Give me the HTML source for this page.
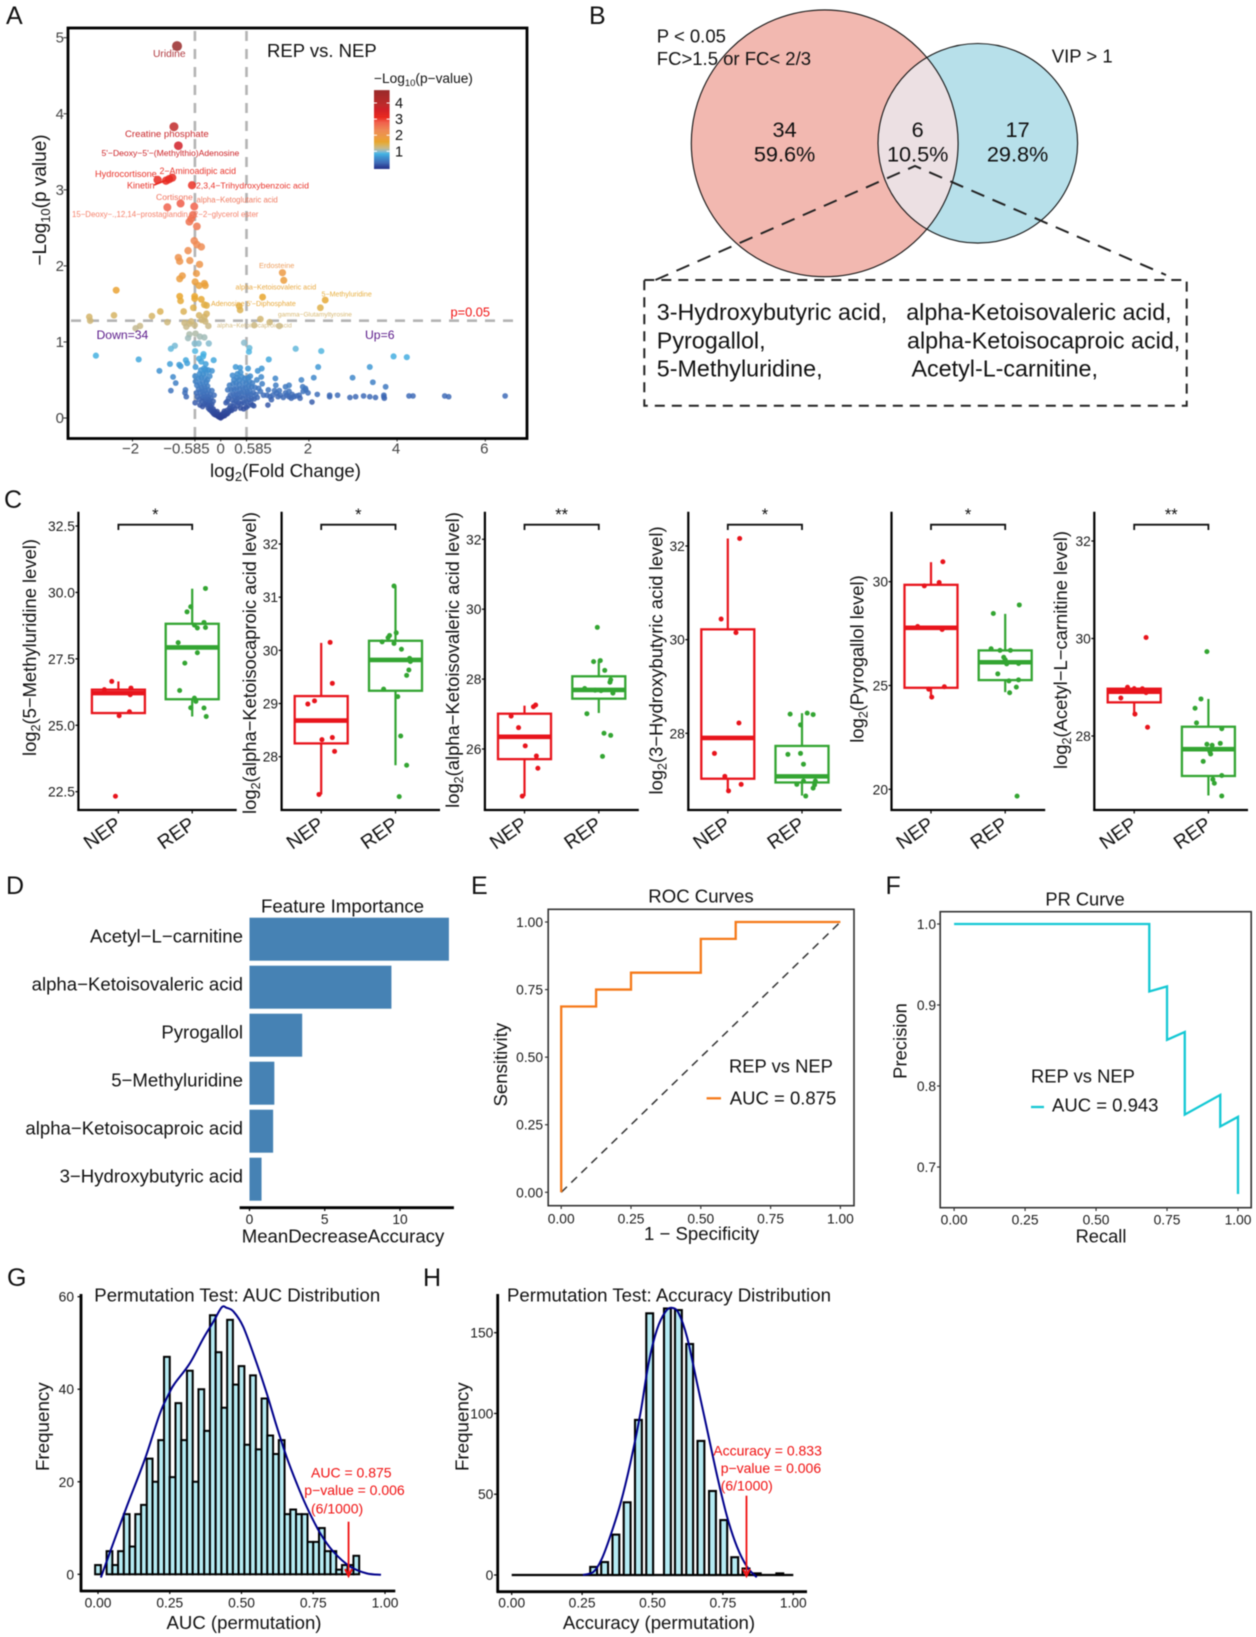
<!DOCTYPE html>
<html lang="en">
<head>
<meta charset="utf-8">
<title>Metabolomics multi-panel figure</title>
<style>
html,body{margin:0;padding:0;background:#fff;width:1256px;height:1637px;overflow:hidden}
svg{display:block;filter:blur(0.4px)}
text{font-family:"Liberation Sans",Arial,sans-serif;fill:#111}
.letter{font-size:25px}
.tick{font-size:13.8px;fill:#1a1a1a}
.title{font-size:18.4px}
.atick{font-size:15px;fill:#444}
.red{fill:#f01010;font-size:14px}
</style>
</head>
<body>
<svg id="figure" xmlns="http://www.w3.org/2000/svg" width="1256" height="1637" viewBox="0 0 1256 1637">
<rect width="1256" height="1637" fill="#fff"/>

<!-- Panel A -->
<g id="panelA">
  <text class="letter" x="6" y="24">A</text>
  <g id="aMarks"></g>
  <rect x="68" y="28" width="459" height="410.5" fill="none" stroke="#000" stroke-width="2.8"/>
  <text x="267" y="57" font-size="18.5">REP vs. NEP</text>
  <text x="285.5" y="477" font-size="18.6" text-anchor="middle">log<tspan dy="4" font-size="13">2</tspan><tspan dy="-4">(Fold Change)</tspan></text>
  <text transform="translate(46,200) rotate(-90)" font-size="19" text-anchor="middle">−Log<tspan dy="4" font-size="13">10</tspan><tspan dy="-4">(p value)</tspan></text>
  <text x="374" y="83" font-size="13.7">−Log<tspan dy="3" font-size="9.5">10</tspan><tspan dy="-3">(p−value)</tspan></text>
  <text x="153" y="57" font-size="10.3" fill="#b03a40" style="fill:#b03a40">Uridine</text>
  <text x="125" y="137" font-size="9.6" style="fill:#c9282c">Creatine phosphate</text>
  <text x="101.5" y="156" font-size="8.6" style="fill:#cc1f24">5'−Deoxy−5'−(Methylthio)Adenosine</text>
  <text x="95" y="177" font-size="9.2" style="fill:#e8332a">Hydrocortisone</text>
  <text x="159.5" y="174" font-size="8.8" style="fill:#e8332a">2−Aminoadipic acid</text>
  <text x="127" y="188.5" font-size="9" style="fill:#e8332a">Kinetin</text>
  <text x="196" y="188.5" font-size="8.7" style="fill:#e8332a">2,3,4−Trihydroxybenzoic acid</text>
  <text x="156" y="200" font-size="8.6" style="fill:#f0705a">Cortisone</text>
  <text x="196.5" y="202.5" font-size="7.8" style="fill:#f07a60">alpha−Ketoglutaric acid</text>
  <text x="72" y="217" font-size="7.85" style="fill:#f5806a">15−Deoxy−.,12,14−prostaglandin J2−2−glycerol ester</text>
  <line x1="154" y1="185" x2="167" y2="180" stroke="#e8281f" stroke-width="1.6"/>
  <text x="259" y="268" font-size="7.4" style="fill:#eea060">Erdosteine</text>
  <text x="235.5" y="289.5" font-size="7.1" style="fill:#e8a840">alpha−Ketoisovaleric acid</text>
  <text x="321.5" y="296.5" font-size="7.1" style="fill:#e8b040">5−Methyluridine</text>
  <text x="211" y="306" font-size="7.1" style="fill:#e8a838">Adenosine 5'−Diphosphate</text>
  <text x="278" y="316.5" font-size="6.5" style="fill:#d8b870">gamma−Glutamyltyrosine</text>
  <text x="217" y="327.5" font-size="6.4" style="fill:#d4bb80">alpha−Ketoisocaproic acid</text>
  <text x="96.5" y="339" font-size="12.2" style="fill:#5a1a8a">Down=34</text>
  <text x="365" y="339" font-size="12.2" style="fill:#5a1a8a">Up=6</text>
  <text x="450.5" y="316.5" font-size="12.8" style="fill:#f01010">p=0.05</text>
</g>

<!-- Panel B -->
<g id="panelB">
  <defs><clipPath id="vennClip"><circle cx="824.7" cy="143.3" r="133.4"/></clipPath></defs>
  <text class="letter" x="589" y="24">B</text>
  <circle cx="824.7" cy="143.3" r="133.4" fill="#f2b8b0"/>
  <circle cx="977.8" cy="143.3" r="99.8" fill="#b7e0ea"/>
  <circle cx="977.8" cy="143.3" r="99.8" fill="#ece0e3" clip-path="url(#vennClip)"/>
  <circle cx="824.7" cy="143.3" r="133.4" fill="none" stroke="#111" stroke-width="1.1"/>
  <circle cx="977.8" cy="143.3" r="99.8" fill="none" stroke="#111" stroke-width="1.1"/>
  <text x="656.8" y="42.5" font-size="18.5">P &lt; 0.05</text>
  <text x="656.8" y="65" font-size="18.5">FC&gt;1.5 or FC&lt; 2/3</text>
  <text x="1051.8" y="62.5" font-size="18.5">VIP &gt; 1</text>
  <text x="784.6" y="137" font-size="21.7" text-anchor="middle">34</text>
  <text x="784.6" y="161.5" font-size="21.7" text-anchor="middle">59.6%</text>
  <text x="917.7" y="137" font-size="21.7" text-anchor="middle">6</text>
  <text x="917.7" y="161.5" font-size="21.7" text-anchor="middle">10.5%</text>
  <text x="1017.6" y="137" font-size="21.7" text-anchor="middle">17</text>
  <text x="1017.6" y="161.5" font-size="21.7" text-anchor="middle">29.8%</text>
  <polyline points="655.4,280 915,166 1166,275" fill="none" stroke="#222" stroke-width="2" stroke-dasharray="14,9"/>
  <rect x="644.3" y="280" width="542.4" height="125.7" fill="none" stroke="#222" stroke-width="2" stroke-dasharray="10,7"/>
  <text x="656.8" y="320" font-size="23.3">3-Hydroxybutyric acid,</text>
  <text x="656.8" y="348.3" font-size="23.3">Pyrogallol,</text>
  <text x="656.8" y="376.7" font-size="23.3">5-Methyluridine,</text>
  <text x="906.2" y="320" font-size="23.3">alpha-Ketoisovaleric acid,</text>
  <text x="907" y="348.3" font-size="23.3">alpha-Ketoisocaproic acid,</text>
  <text x="911.5" y="376.7" font-size="23.3">Acetyl-L-carnitine,</text>
</g>

<!-- Panel C -->
<g id="panelC">
  <text class="letter" x="4" y="508">C</text>
  <g id="cMarks"></g>
  <text class="title" transform="translate(36,647.5) rotate(-90)" text-anchor="middle">log<tspan dy="4" font-size="12.5">2</tspan><tspan dy="-4">(5−Methyluridine level)</tspan></text>
  <text class="title" transform="translate(256,663) rotate(-90)" text-anchor="middle">log<tspan dy="4" font-size="12.5">2</tspan><tspan dy="-4">(alpha−Ketoisocaproic acid level)</tspan></text>
  <text class="title" transform="translate(459,660) rotate(-90)" text-anchor="middle">log<tspan dy="4" font-size="12.5">2</tspan><tspan dy="-4">(alpha−Ketoisovaleric acid level)</tspan></text>
  <text class="title" transform="translate(662.7,660.5) rotate(-90)" text-anchor="middle">log<tspan dy="4" font-size="12.5">2</tspan><tspan dy="-4">(3−Hydroxybutyric acid level)</tspan></text>
  <text class="title" transform="translate(863.5,659) rotate(-90)" text-anchor="middle">log<tspan dy="4" font-size="12.5">2</tspan><tspan dy="-4">(Pyrogallol level)</tspan></text>
  <text class="title" transform="translate(1067,650) rotate(-90)" text-anchor="middle">log<tspan dy="4" font-size="12.5">2</tspan><tspan dy="-4">(Acetyl−L−carnitine level)</tspan></text>
</g>

<!-- Panel D -->
<g id="panelD">
  <text class="letter" x="6" y="894">D</text>
  <text x="261" y="912.7" font-size="18.7">Feature Importance</text>
  <g id="dMarks"></g>
  <text x="343" y="1242.3" font-size="18.6" text-anchor="middle">MeanDecreaseAccuracy</text>
</g>

<!-- Panel E -->
<g id="panelE">
  <text class="letter" x="471" y="894">E</text>
  <text x="701" y="902.7" font-size="18.6" text-anchor="middle">ROC Curves</text>
  <rect x="548.2" y="909.3" width="305.8" height="296.4" fill="none" stroke="#333" stroke-width="1.6"/>
  <g id="eMarks"></g>
  <text x="701.6" y="1240" font-size="18.6" text-anchor="middle">1 − Specificity</text>
  <text transform="translate(507,1064.7) rotate(-90)" font-size="18.6" text-anchor="middle">Sensitivity</text>
  <text x="729" y="1072.7" font-size="18.4">REP vs NEP</text>
  <line x1="706.6" y1="1098.3" x2="721" y2="1098.3" stroke="#f57a1a" stroke-width="2.3"/>
  <text x="729.8" y="1104.3" font-size="18.5">AUC = 0.875</text>
</g>

<!-- Panel F -->
<g id="panelF">
  <text class="letter" x="885.5" y="894">F</text>
  <text x="1085" y="905.3" font-size="18.3" text-anchor="middle">PR Curve</text>
  <rect x="940.2" y="911.7" width="311" height="296" fill="none" stroke="#333" stroke-width="1.6"/>
  <g id="fMarks"></g>
  <text x="1101" y="1242.3" font-size="18.3" text-anchor="middle">Recall</text>
  <text transform="translate(906.6,1041) rotate(-90)" font-size="18.4" text-anchor="middle">Precision</text>
  <text x="1031" y="1082.7" font-size="18.4">REP vs NEP</text>
  <line x1="1031" y1="1107" x2="1044" y2="1107" stroke="#14c8d4" stroke-width="2.3"/>
  <text x="1052" y="1111.7" font-size="18.5">AUC = 0.943</text>
</g>

<!-- Panel G -->
<g id="panelG">
  <text class="letter" x="7" y="1286">G</text>
  <g id="gMarks"></g>
  <text x="94.3" y="1301.7" font-size="18.6">Permutation Test: AUC Distribution</text>
  <text x="244" y="1629" font-size="18.6" text-anchor="middle">AUC (permutation)</text>
  <text transform="translate(49,1426.7) rotate(-90)" font-size="18.8" text-anchor="middle">Frequency</text>
  <text class="red" x="311" y="1477.3">AUC = 0.875</text>
  <text class="red" x="304.3" y="1495">p−value = 0.006</text>
  <text class="red" x="311" y="1513.3">(6/1000)</text>
</g>

<!-- Panel H -->
<g id="panelH">
  <text class="letter" x="423" y="1286">H</text>
  <g id="hMarks"></g>
  <text x="507" y="1301.7" font-size="18.65">Permutation Test: Accuracy Distribution</text>
  <text x="659" y="1629" font-size="18.6" text-anchor="middle">Accuracy (permutation)</text>
  <text transform="translate(468.3,1426.7) rotate(-90)" font-size="18.8" text-anchor="middle">Frequency</text>
  <text class="red" x="713.3" y="1455.3">Accuracy = 0.833</text>
  <text class="red" x="720.7" y="1473">p−value = 0.006</text>
  <text class="red" x="720.7" y="1490.7">(6/1000)</text>
</g>
</svg>

<script>
/* ---------- Panel A data ---------- */
const volcanoXTicks = [-2, -0.585, 0, 0.585, 2, 4, 6];
const volcanoXLabels = ['−2', '−0.585', '0', '0.585', '2', '4', '6'];
const volcanoYTicks = [0, 1, 2, 3, 4, 5];
const volcanoLegendTicks = [1, 2, 3, 4];
const volcanoFoldThresholds = [-0.585, 0.585];
const volcanoPThreshold = [1.28];
const volcanoPoints = [
[-.99,4.89],[-1.06,3.83],[-.96,3.58],[-1.43,3.13],[-1.24,3.12],[-1.10,3.16],[-1.17,3.14],[-.65,3.06],[-.91,2.82],[-.60,2.78],[-1.21,2.77],[-.63,2.67],[-.67,2.62],[-.71,2.58],[-.54,2.52],[-.60,2.33],[-.54,2.28],[-.44,2.25],[-.74,2.20],[-.96,2.11],[-.93,2.06],[-.70,2.07],[-.48,2.02],[-.55,1.90],[-.87,1.87],[-.93,1.83],[-.58,1.79],[-.37,1.77],[-.35,1.74],[-.49,1.74],[-2.37,1.68],[-.93,1.60],[-.59,1.60],[-.59,1.57],[-.91,1.54],[-.44,1.56],[-.37,1.49],[-.32,1.48],[-.62,1.45],[-.84,1.40],[-1.37,1.40],[-1.56,1.34],[-2.42,1.35],[-2.98,1.33],[-2.96,1.28],[-.32,1.37],[-.49,1.35],[-.37,1.33],[-.43,1.29],[-.35,1.27],[-.28,1.21],[-1.21,1.26],[-.82,1.25],[-.71,1.24],[-.78,1.20],[-.59,1.22],[-1.83,1.21],[-1.93,1.18],[-.67,1.27],
[1.40,1.91],[1.43,1.81],[.95,1.59],[2.37,1.55],[2.26,1.45],[.44,1.42],[.42,1.47],[.90,1.30],[1.11,1.26],[1.33,1.21],[.76,1.22],
[-.71,1.10],[-.74,1.05],[-.57,1.11],[-.47,1.07],[-.37,1.06],[-.27,.98],[-.59,.98],[-.5,.98],[-1.04,.95],[-1.13,.91],[.53,.99],[.65,.92],[.64,.87],[1.70,.91],[2.28,.88],[-.58,.88],[-.39,.84],[-.40,.81],[-.49,.78],[3.92,.81],[4.22,.80],[-2.83,.82],[-1.86,.77],[-.16,.76],[1.09,.77],[-.79,.76],[-1.15,.71],[-.76,.72],[-.94,.70],[-.91,.68],[-1.39,.62],[-.57,.67],[-.34,.71],[-.44,.74],[-.34,.64],[-.20,.62],[2.21,.67],[3.38,.67],[.34,.67],[.44,.66],[.62,.65],[.93,.65],[.84,.62],[2.99,.53],[2.11,.53],[1.83,.50],[3.45,.47],[1.24,.52],[.92,.54],[.67,.55],[3.74,.41],[1.92,.39],[1.86,.41],[1.47,.41],[1.55,.43],[1.25,.43],[-1.08,.54],[-1.02,.46],[-1.13,.36],[-.80,.37],[-.81,.33],[-.78,.28],
[2.19,.31],[2.47,.30],[2.47,.28],[2.65,.30],[2.93,.27],[3.06,.28],[3.24,.29],[3.38,.28],[3.51,.27],[3.70,.30],[3.70,.28],[3.71,.26],[4.27,.29],[4.36,.29],[5.08,.29],[5.17,.28],[6.45,.29],[2.07,.21],
[0,0],[-.03,.01],[.03,.015],[-.06,.02],[.06,.025],[-.09,.035],[.09,.03],[-.12,.04],[.12,.05],[-.02,.03],[.02,.04],[-.05,.05],[.05,.06],[-.1,.06],[.1,.07],[-.15,.05],[.15,.055],[-.08,.085],[.08,.09],[-.18,.07],[.18,.075],[-.14,.09],[.14,.1],[-.21,.09],[.22,.1],[-.17,.12],[.2,.13],
[-.25,.11],[-.22,.14],[-.28,.13],[-.24,.17],[-.3,.17],[-.27,.2],[-.33,.2],[-.2,.18],[-.36,.24],[-.3,.24],[-.25,.23],[-.4,.27],[-.34,.28],[-.28,.28],[-.22,.26],[-.44,.29],[-.38,.31],[-.31,.32],[-.24,.31],[-.47,.34],[-.41,.35],[-.35,.36],[-.28,.37],[-.5,.38],[-.43,.4],[-.37,.41],[-.3,.42],[-.54,.43],[-.47,.45],[-.41,.47],[-.33,.47],[-.57,.48],[-.5,.52],[-.44,.53],[-.36,.53],[-.3,.5],[-.58,.55],[-.48,.58],[-.4,.58],[-.33,.6],[-.25,.55],[-.45,.63],[-.38,.65],[-.28,.63],[-.55,.33],[-.58,.2],[-.47,.17],[-.41,.15],[-.37,.18],[-.42,.22],[-.49,.24],[-.53,.28],[-.2,.36],[-.15,.3],[-.17,.22],
[.25,.1],[.32,.12],[.28,.15],[.22,.16],[.38,.16],[.45,.13],[.52,.12],[.58,.14],[.62,.16],[.68,.2],[.72,.17],[.3,.2],[.35,.22],[.41,.2],[.47,.19],[.53,.2],[.58,.22],[.64,.24],[.7,.26],[.76,.25],[.83,.27],[.26,.24],[.32,.27],[.38,.26],[.44,.27],[.5,.26],[.56,.29],[.62,.3],[.68,.31],[.74,.33],[.8,.31],[.29,.31],[.35,.32],[.41,.32],[.47,.33],[.53,.34],[.6,.35],[.66,.36],[.22,.3],[.18,.26],[.15,.22],[.12,.2],[.24,.37],[.3,.38],[.36,.39],[.43,.38],[.5,.4],[.56,.4],[.63,.42],[.7,.41],[.78,.4],[.16,.37],[.2,.43],[.28,.45],[.35,.46],[.42,.44],[.5,.47],[.58,.46],[.65,.48],[.72,.46],[.3,.5],[.37,.53],[.42,.5],[.48,.54],[.55,.52],[.62,.53],[.38,.58],[.45,.6],[.27,.56],[.9,.35],[.97,.3],[.86,.39],[.94,.45],[.82,.5],[.75,.16],[1.07,.17],
[1.05,.3],[1.12,.28],[1.18,.3],[1.22,.36],[1.27,.33],[1.3,.28],[1.35,.3],[1.33,.36],[1.42,.27],[1.47,.33],[1.5,.3],[1.55,.28],[1.6,.26],[1.55,.35],[1.62,.31],[1.66,.28],[1.72,.29],[1.78,.3],[1.8,.26],[1.87,.35],[1.93,.37],[1.98,.33],[1.08,.37],[1.15,.24]
];
const volcanoColorValues = [0, .3, .6, .85, 1.0, 1.2, 1.45, 1.6, 1.9, 2.3, 2.8, 3.1, 3.6, 3.85, 4.9];
const volcanoColorHexes = ['#2a3b90','#3f6db8','#3f8fcf','#45b4e4','#8fbccb','#c8b98a','#dfb04a','#e9a52c','#ec9a45','#ee8a55','#f0604c','#ea2a20','#d02028','#c02a2a','#992a2a'];

/* ---------- Panel C data: box = [whiskerLow, q1, median, q3, whiskerHigh]; points = [jitter, value] ---------- */
const boxCategories = ['NEP', 'REP'];
const box1Ticks = [22.5, 25, 27.5, 30, 32.5];
const box1TickLabels = ['22.5', '25.0', '27.5', '30.0', '32.5'];
const box1Nep = [25.33, 25.46, 26.21, 26.34, 26.65];
const box1Rep = [25.33, 25.98, 27.93, 28.82, 30.14];
const box1NepPoints = [[-.09,26.65],[.17,26.40],[.16,26.15],[-.19,26.34],[.15,25.51],[.01,25.36],[-.04,22.33]];
const box1RepPoints = [[.18,30.15],[-.02,29.46],[-.07,29.27],[.03,28.77],[.16,28.87],[.07,28.66],[.18,28.68],[-.19,28.11],[.07,27.73],[-.10,27.34],[-.17,26.31],[.03,26.02],[.05,25.9],[-.02,25.66],[.16,25.65],[.19,25.33]];
const box1Stars = ['*'];

const box2Ticks = [28, 29, 30, 31, 32];
const box2TickLabels = ['28', '29', '30', '31', '32'];
const box2Nep = [27.29, 28.25, 28.68, 29.14, 30.14];
const box2Rep = [27.84, 29.24, 29.82, 30.18, 31.21];
const box2NepPoints = [[.12,30.15],[.15,29.38],[-.09,29.05],[-.18,28.99],[.15,28.36],[.01,28.32],[.18,28.10],[-.03,27.29]];
const box2RepPoints = [[-.02,31.21],[.01,30.33],[-.08,30.28],[-.10,30.24],[-.18,30.16],[-.02,30.13],[.08,30.02],[.19,29.85],[.2,29.79],[.18,29.63],[.15,29.53],[-.16,29.27],[.03,29.13],[.07,28.39],[.15,27.84],[.05,27.25]];
const box2Stars = ['*'];

const box3Ticks = [26, 28, 30, 32];
const box3TickLabels = ['26', '28', '30', '32'];
const box3Nep = [24.65, 25.71, 26.35, 27.01, 27.24];
const box3Rep = [27.03, 27.44, 27.69, 28.08, 28.55];
const box3NepPoints = [[.15,27.26],[.12,27.21],[-.18,26.94],[-.08,26.61],[.01,26.09],[.16,25.80],[.18,25.45],[-.03,24.65]];
const box3RepPoints = [[-.02,29.48],[-.07,28.50],[.02,28.53],[.08,28.25],[.16,27.98],[.15,27.91],[-.19,27.73],[-.05,27.68],[.03,27.67],[.19,27.60],[-.16,27.01],[.07,26.45],[.16,26.39],[.05,25.79]];
const box3Stars = ['**'];

const box4Ticks = [28, 30, 32];
const box4TickLabels = ['28', '30', '32'];
const box4Nep = [26.77, 27.03, 27.90, 30.22, 32.16];
const box4Rep = [26.67, 26.95, 27.08, 27.73, 28.43];
const box4NepPoints = [[.16,32.16],[-.09,30.44],[.11,30.15],[.15,28.22],[-.18,27.57],[-.04,27.08],[.18,26.91],[.01,26.77]];
const box4RepPoints = [[-.16,28.41],[.07,28.43],[.15,28.40],[-.02,28.18],[-.19,27.55],[-.02,27.57],[.02,27.34],[-.07,26.91],[.02,26.98],[.18,26.98],[.17,26.90],[.15,26.83],[.05,26.66]];
const box4Stars = ['*'];

const box5Ticks = [20, 25, 30];
const box5TickLabels = ['20', '25', '30'];
const box5Nep = [24.44, 24.89, 27.78, 29.85, 30.94];
const box5Rep = [24.68, 25.26, 26.12, 26.69, 28.45];
const box5NepPoints = [[.16,30.96],[.11,29.96],[-.09,29.80],[-.18,27.84],[.15,27.70],[.18,24.94],[-.03,24.82],[.01,24.44]];
const box5RepPoints = [[.19,28.88],[-.16,28.47],[-.19,26.77],[-.07,26.69],[.07,26.69],[-.02,26.36],[0,26.24],[.02,26.04],[.18,26.06],[-.10,25.56],[.18,25.27],[.05,25.22],[.15,24.92],[.06,24.65],[.16,19.67]];
const box5Stars = ['*'];

const box6Ticks = [28, 30, 32];
const box6TickLabels = ['28', '30', '32'];
const box6Nep = [28.45, 28.69, 28.91, 28.97, 29.02];
const box6Rep = [26.78, 27.18, 27.73, 28.19, 28.76];
const box6NepPoints = [[.16,30.02],[-.09,29.0],[0,28.97],[.11,28.97],[.16,28.89],[-.18,28.78],[.01,28.45],[.18,28.18]];
const box6RepPoints = [[-.02,29.73],[-.10,28.76],[-.18,28.57],[-.16,28.27],[.18,28.15],[-.02,27.83],[.05,27.81],[.16,27.85],[.02,27.68],[.03,27.63],[-.07,27.48],[.18,27.19],[.06,27.11],[.08,27.03],[.18,26.77]];
const box6Stars = ['**'];

/* ---------- Panel D data ---------- */
const importanceFeatures = ['Acetyl−L−carnitine', 'alpha−Ketoisovaleric acid', 'Pyrogallol', '5−Methyluridine', 'alpha−Ketoisocaproic acid', '3−Hydroxybutyric acid'];
const importanceValues = [13.25, 9.43, 3.5, 1.65, 1.57, 0.8];
const importanceTicks = [0, 5, 10];

/* ---------- Panels E, F data ---------- */
const rateTicks = [0, .25, .5, .75, 1];
const rateTickLabels = ['0.00', '0.25', '0.50', '0.75', '1.00'];
const rocFpr = [0, 0, .125, .125, .25, .25, .5, .5, .625, .625, 1];
const rocTpr = [0, .6875, .6875, .75, .75, .8125, .8125, .9375, .9375, 1, 1];
const prRecall = [0, .6875, .6875, .75, .75, .8125, .8125, .9375, .9375, 1, 1];
const prPrecision = [1, 1, .9167, .923, .857, .8667, .7647, .789, .75, .7619, .6667];
const prYTicks = [.7, .8, .9, 1];
const prYLabels = ['0.7', '0.8', '0.9', '1.0'];

/* ---------- Panel G data ---------- */
const aucBinCounts = [2,0,5,2,5,13,6,13,15,25,20,29,47,21,37,29,44,20,40,31,56,48,36,55,41,45,28,43,27,38,30,26,29,13,14,13,13,7,7,10,5,5,1,2,2,4,0,0,0,0,0];
const aucDensityX = [.01,.053,.10,.164,.216,.251,.268,.32,.367,.402,.431,.448,.472,.506,.553,.588,.623,.657,.692,.727,.774,.82,.878,.936,.986];
const aucDensityY = [-.7,6.7,14.6,25,34.8,39.5,41.3,45.6,51,54.6,57.7,57.6,56.8,53.5,45.6,39.1,31.9,25.4,19.7,14.6,8.9,4.9,1.7,.2,-.1];
const aucYTicks = [0, 20, 40, 60];
const aucObserved = [0.873];

/* ---------- Panel H data ---------- */
const accBinCenters = [.291,.33,.37,.41,.45,.49,.553,.592,.632,.672,.713,.753,.792,.832,.872,.952];
const accBinCounts = [5,8,25,45,96,162,165,164,143,83,52,34,11,4,1,1];
const accDensityX = [.253,.291,.32,.35,.386,.421,.457,.486,.516,.546,.569,.593,.623,.658,.694,.73,.765,.80,.836,.87];
const accDensityY = [0,2,10,24,44,69,100,131,152,163,165.4,162,147,119,90,61,36,17.5,5,-1.4];
const accYTicks = [0, 50, 100, 150];
const accObserved = [0.833];

/* ---------- helpers ---------- */
const SVGNS = 'http://www.w3.org/2000/svg';
function mk(tag, attrs, parent, content) {
  const el = document.createElementNS(SVGNS, tag);
  for (const k in attrs) el.setAttribute(k, attrs[k]);
  if (content !== undefined) el.textContent = content;
  parent.appendChild(el);
  return el;
}
function scale(d0, d1, r0, r1) { return v => r0 + (v - d0) * (r1 - r0) / (d1 - d0); }
function smoothPath(px, py) {
  let d = 'M' + px[0] + ' ' + py[0];
  for (let i = 0; i < px.length - 1; i++) {
    const a = Math.max(i - 1, 0), c = i + 1, e = Math.min(i + 2, px.length - 1);
    d += ' C' + (px[i] + (px[c] - px[a]) / 6) + ' ' + (py[i] + (py[c] - py[a]) / 6) + ' ' +
         (px[c] - (px[e] - px[i]) / 6) + ' ' + (py[c] - (py[e] - py[i]) / 6) + ' ' + px[c] + ' ' + py[c];
  }
  return d;
}
function hexRgb(h) { return [1, 3, 5].map(i => parseInt(h.substr(i, 2), 16)); }
function volcanoColor(v) {
  const vals = volcanoColorValues;
  if (v <= vals[0]) return volcanoColorHexes[0];
  for (let i = 1; i < vals.length; i++) {
    if (v <= vals[i]) {
      const t = (v - vals[i - 1]) / (vals[i] - vals[i - 1]);
      const a = hexRgb(volcanoColorHexes[i - 1]), b = hexRgb(volcanoColorHexes[i]);
      return 'rgb(' + a.map((c, j) => Math.round(c + (b[j] - c) * t)).join(',') + ')';
    }
  }
  return volcanoColorHexes[volcanoColorHexes.length - 1];
}

/* ---------- Panel A ---------- */
(function () {
  const g = document.getElementById('aMarks');
  const xV = scale(0, 2, 220.7, 308.9);
  const yV = scale(0, 5, 418, 37.7);
  const xNudge = [-2, -8.5, 0, 6.5, -1, -1, -1];
  volcanoFoldThresholds.forEach(v => {
    const l = mk('line', {x1: xV(v), x2: xV(v), y1: 31, y2: 437, stroke: '#b4b4b4', 'stroke-width': 2.6, 'stroke-dasharray': '10,8'}, g);
    
    
  });
  volcanoPThreshold.forEach(v => {
    const l = mk('line', {x1: 71, x2: 517, y1: yV(v), y2: yV(v), stroke: '#b4b4b4', 'stroke-width': 2.6, 'stroke-dasharray': '10,8'}, g);
    
    
  });
  volcanoXTicks.forEach((v, i) => {
    const t = mk('line', {x1: xV(v), x2: xV(v), y1: 439, y2: 441.5, stroke: '#333', 'stroke-width': 1}, g);
    
    
    const lab = mk('text', {x: xV(v) + xNudge[i], y: 453.5, 'text-anchor': 'middle', class: 'atick'}, g, volcanoXLabels[i]);
    
    
  });
  volcanoYTicks.forEach(v => {
    const t = mk('line', {x1: 63.5, x2: 66.5, y1: yV(v), y2: yV(v), stroke: '#333', 'stroke-width': 1}, g);
    
    
    const lab = mk('text', {x: 64, y: yV(v) + 5, 'text-anchor': 'end', class: 'atick'}, g, String(v));
    
    
  });
  volcanoPoints.forEach(p => {
    const dot = mk('circle', {cx: xV(p[0]), cy: yV(p[1]), r: 2.7 + 0.47 * p[1], fill: volcanoColor(p[1]), opacity: 0.85}, g);
    
    
  });
  /* colour bar */
  const yBar = scale(1, 4, 151.3, 103);
  const defs = mk('defs', {}, g);
  const grad = mk('linearGradient', {id: 'volcanoBar', x1: 0, y1: 1, x2: 0, y2: 0}, defs);
  const barMin = -0.1, barMax = 4.8;
  volcanoColorValues.forEach((v, i) => {
    mk('stop', {offset: (v - barMin) / (barMax - barMin), 'stop-color': volcanoColorHexes[i]}, grad);
  });
  const bar = mk('rect', {x: 374, y: yBar(barMax), width: 15.6, height: yBar(barMin) - yBar(barMax), fill: 'url(#volcanoBar)'}, g);
  
  
  volcanoLegendTicks.forEach(v => {
    const t1 = mk('line', {x1: 374, x2: 377, y1: yBar(v), y2: yBar(v), stroke: '#fff', 'stroke-width': 1}, g);
    
    
    const t2 = mk('line', {x1: 386.6, x2: 389.6, y1: yBar(v), y2: yBar(v), stroke: '#fff', 'stroke-width': 1}, g);
    
    
    const lab = mk('text', {x: 399, y: yBar(v) + 5, 'text-anchor': 'middle', 'font-size': 14.5}, g, String(v));
    
    
  });
})();

/* ---------- Panel C ---------- */
function drawBoxPlot(index, layout, ticks, tickLabels, nepBox, repBox, nepPts, repPts, stars) {
  const g = mk('g', {}, document.getElementById('cMarks'));
  
  
  const yS = scale(ticks[0], ticks[ticks.length - 1], layout.yFirst, layout.yLast);
  const xS = scale(0, 1, layout.nep, layout.rep);
  const axY = mk('line', {x1: layout.axis, x2: layout.axis, y1: 511.7, y2: 811, stroke: '#000', 'stroke-width': 2.2}, g);
  
  
  const axX = mk('line', {x1: layout.axis - 1, x2: layout.end, y1: 810, y2: 810, stroke: '#000', 'stroke-width': 2.2}, g);
  
  
  ticks.forEach((v, i) => {
    const t = mk('line', {x1: layout.axis - 3, x2: layout.axis, y1: yS(v), y2: yS(v), stroke: '#000', 'stroke-width': 1.2}, g);
    
    
    const lab = mk('text', {x: layout.axis - 3.5, y: yS(v) + 5, 'text-anchor': 'end', class: 'tick'}, g, tickLabels[i]);
    
    
  });
  boxCategories.forEach((cat, i) => {
    const colour = i === 0 ? '#e8141c' : '#33a532';
    const box = i === 0 ? nepBox : repBox;
    const pts = i === 0 ? nepPts : repPts;
    const cx = xS(i);
    const t = mk('line', {x1: cx, x2: cx, y1: 811, y2: 813.5, stroke: '#000', 'stroke-width': 1.2}, g);
    
    
    const lab = mk('text', {transform: 'translate(' + (cx + 4) + ',827) rotate(-35)', 'text-anchor': 'end', 'font-size': 19.5}, g, cat);
    
    
    const wLo = mk('line', {x1: cx, x2: cx, y1: yS(box[0]), y2: yS(box[1]), stroke: colour, 'stroke-width': 2.2}, g);
    
    
    const wHi = mk('line', {x1: cx, x2: cx, y1: yS(box[3]), y2: yS(box[4]), stroke: colour, 'stroke-width': 2.2}, g);
    
    
    const rect = mk('rect', {x: cx - 26.5, width: 53, y: yS(box[3]), height: yS(box[1]) - yS(box[3]), fill: '#fff', stroke: colour, 'stroke-width': 2.3}, g);
    
    
    const med = mk('line', {x1: cx - 26.5, x2: cx + 26.5, y1: yS(box[2]), y2: yS(box[2]), stroke: colour, 'stroke-width': 4.6}, g);
    
    
    pts.forEach(p => {
      const dot = mk('circle', {cx: xS(i + p[0]), cy: yS(p[1]), r: 2.5, fill: colour}, g);
      
      
    });
  });
  const br = mk('path', {d: 'M' + xS(0) + ' 530 V524.7 H' + xS(1) + ' V530', fill: 'none', stroke: '#111', 'stroke-width': 1.8}, g);
  
  
  const st = mk('text', {x: (xS(0) + xS(1)) / 2, y: 520, 'text-anchor': 'middle', 'font-size': 16.5}, g, stars[0]);
  
  
}
drawBoxPlot(1, {axis: 78.4, end: 236.7, nep: 118.4, rep: 192.2, yFirst: 791.7, yLast: 526}, box1Ticks, box1TickLabels, box1Nep, box1Rep, box1NepPoints, box1RepPoints, box1Stars);
drawBoxPlot(2, {axis: 281.6, end: 440, nep: 321.2, rep: 395.5, yFirst: 756.7, yLast: 544}, box2Ticks, box2TickLabels, box2Nep, box2Rep, box2NepPoints, box2RepPoints, box2Stars);
drawBoxPlot(3, {axis: 484.9, end: 638.8, nep: 524.5, rep: 598.8, yFirst: 749, yLast: 539.3}, box3Ticks, box3TickLabels, box3Nep, box3Rep, box3NepPoints, box3RepPoints, box3Stars);
drawBoxPlot(4, {axis: 688.3, end: 841.6, nep: 727.8, rep: 802, yFirst: 733.3, yLast: 546}, box4Ticks, box4TickLabels, box4Nep, box4Rep, box4NepPoints, box4RepPoints, box4Stars);
drawBoxPlot(5, {axis: 891.5, end: 1045.2, nep: 931, rep: 1005.2, yFirst: 789.3, yLast: 581.7}, box5Ticks, box5TickLabels, box5Nep, box5Rep, box5NepPoints, box5RepPoints, box5Stars);
drawBoxPlot(6, {axis: 1094.3, end: 1248, nep: 1134.2, rep: 1208.4, yFirst: 736, yLast: 541}, box6Ticks, box6TickLabels, box6Nep, box6Rep, box6NepPoints, box6RepPoints, box6Stars);

/* ---------- Panel D ---------- */
(function () {
  const g = document.getElementById('dMarks');
  const xS = scale(0, 10, 249.5, 400);
  importanceFeatures.forEach((name, i) => {
    const top = 917.7 + i * 48;
    const bar = mk('rect', {x: xS(0), y: top, width: xS(importanceValues[i]) - xS(0), height: 43, fill: '#4682b4'}, g);
    
    
    const lab = mk('text', {x: 243, y: top + 25, 'text-anchor': 'end', 'font-size': 18.6}, g, name);
    
    
  });
  const ax = mk('line', {x1: 239.6, x2: 453.9, y1: 1207.7, y2: 1207.7, stroke: '#000', 'stroke-width': 2.8}, g);
  
  
  importanceTicks.forEach(v => {
    const t = mk('line', {x1: xS(v), x2: xS(v), y1: 1209, y2: 1211, stroke: '#000', 'stroke-width': 1.2}, g);
    
    
    const lab = mk('text', {x: xS(v), y: 1224, 'text-anchor': 'middle', class: 'tick'}, g, String(v));
    
    
  });
})();

/* ---------- Panels E & F ---------- */
(function () {
  const g = document.getElementById('eMarks');
  const xS = scale(0, 1, 561.2, 840.4);
  const yS = scale(0, 1, 1192.3, 922);
  rateTicks.forEach((v, i) => {
    const tx = mk('line', {x1: xS(v), x2: xS(v), y1: 1206.5, y2: 1209, stroke: '#333', 'stroke-width': 1.2}, g);
    
    
    const lx = mk('text', {x: xS(v), y: 1223.3, 'text-anchor': 'middle', class: 'tick'}, g, rateTickLabels[i]);
    
    
    const ty = mk('line', {x1: 545, x2: 547.5, y1: yS(v), y2: yS(v), stroke: '#333', 'stroke-width': 1.2}, g);
    
    
    const ly = mk('text', {x: 543, y: yS(v) + 5, 'text-anchor': 'end', class: 'tick'}, g, rateTickLabels[i]);
    
    
  });
  const diag = mk('line', {x1: xS(0), y1: yS(0), x2: xS(1), y2: yS(1), stroke: '#333', 'stroke-width': 1.5, 'stroke-dasharray': '8,6'}, g);
  
  
  const roc = mk('polyline', {points: rocFpr.map((v, i) => xS(v) + ',' + yS(rocTpr[i])).join(' '), fill: 'none', stroke: '#f57a1a', 'stroke-width': 2.3}, g);
  
  
})();
(function () {
  const g = document.getElementById('fMarks');
  const xS = scale(0, 1, 954.1, 1238);
  const yS = scale(.7, 1, 1167, 924);
  rateTicks.forEach((v, i) => {
    const tx = mk('line', {x1: xS(v), x2: xS(v), y1: 1208.5, y2: 1211, stroke: '#333', 'stroke-width': 1.2}, g);
    
    
    const lx = mk('text', {x: xS(v), y: 1224.3, 'text-anchor': 'middle', class: 'tick'}, g, rateTickLabels[i]);
    
    
  });
  prYTicks.forEach((v, i) => {
    const ty = mk('line', {x1: 937, x2: 939.5, y1: yS(v), y2: yS(v), stroke: '#333', 'stroke-width': 1.2}, g);
    
    
    const ly = mk('text', {x: 936, y: yS(v) + 5, 'text-anchor': 'end', class: 'tick'}, g, prYLabels[i]);
    
    
  });
  const pr = mk('polyline', {points: prRecall.map((v, i) => xS(v) + ',' + yS(prPrecision[i])).join(' '), fill: 'none', stroke: '#14c8d4', 'stroke-width': 2.3}, g);
  
  
})();

/* ---------- Panels G & H ---------- */
function drawArrow(g, x, y1, y2) {
  const shaft = mk('line', {x1: x, x2: x, y1: y1, y2: y2 - 3, stroke: '#f01010', 'stroke-width': 1.8}, g);
  
  
  const head = mk('path', {d: 'M' + (x - 3.5) + ' ' + (y2 - 7) + ' L' + x + ' ' + y2 + ' L' + (x + 3.5) + ' ' + (y2 - 7), fill: 'none', stroke: '#f01010', 'stroke-width': 2}, g);
  
  
}
(function () {
  const g = document.getElementById('gMarks');
  const xS = scale(0, 1, 98, 385);
  const yS = scale(0, 60, 1574.3, 1296.7);
  const binWidth = 0.02;
  aucBinCounts.forEach((count, i) => {
    const c = i * binWidth;
    const r = mk('rect', {x: xS(c - binWidth / 2), width: xS(binWidth) - xS(0), y: yS(count), height: yS(0) - yS(count), fill: '#b5ebf3', stroke: '#000', 'stroke-width': 2}, g);
    
    
  });
  const curve = mk('path', {d: smoothPath(aucDensityX.map(xS), aucDensityY.map(yS)), fill: 'none', stroke: '#00008b', 'stroke-width': 2}, g);
  
  
  drawArrow(g, xS(aucObserved[0]), 1521.7, 1576);
  const axY = mk('line', {x1: 81, x2: 81, y1: 1294, y2: 1592, stroke: '#000', 'stroke-width': 2.8}, g);
  
  
  const axX = mk('line', {x1: 80, x2: 395.3, y1: 1591, y2: 1591, stroke: '#000', 'stroke-width': 2.8}, g);
  
  
  rateTicks.forEach((v, i) => {
    const t = mk('line', {x1: xS(v), x2: xS(v), y1: 1592, y2: 1594, stroke: '#000', 'stroke-width': 1.2}, g);
    
    
    const l = mk('text', {x: xS(v), y: 1607.3, 'text-anchor': 'middle', class: 'tick'}, g, rateTickLabels[i]);
    
    
  });
  aucYTicks.forEach(v => {
    const t = mk('line', {x1: 77.5, x2: 80, y1: yS(v), y2: yS(v), stroke: '#000', 'stroke-width': 1.2}, g);
    
    
    const l = mk('text', {x: 74, y: yS(v) + 5, 'text-anchor': 'end', class: 'tick'}, g, String(v));
    
    
  });
})();
(function () {
  const g = document.getElementById('hMarks');
  const xS = scale(0, 1, 511.7, 793.3);
  const yS = scale(0, 150, 1575, 1332.7);
  const binWidth = 0.0243;
  const base = mk('line', {x1: xS(0), x2: xS(1), y1: yS(0), y2: yS(0), stroke: '#000', 'stroke-width': 2.2}, g);
  
  
  accBinCounts.forEach((count, i) => {
    const c = accBinCenters[i];
    const r = mk('rect', {x: xS(c - binWidth / 2), width: xS(binWidth) - xS(0), y: yS(count), height: yS(0) - yS(count), fill: '#b5ebf3', stroke: '#000', 'stroke-width': 2.1}, g);
    
    
  });
  const curve = mk('path', {d: smoothPath(accDensityX.map(xS), accDensityY.map(yS)), fill: 'none', stroke: '#00008b', 'stroke-width': 2}, g);
  
  
  drawArrow(g, xS(accObserved[0]) + 0.2, 1495.7, 1576);
  const axY = mk('line', {x1: 497.7, x2: 497.7, y1: 1294, y2: 1592.5, stroke: '#000', 'stroke-width': 2.8}, g);
  
  
  const axX = mk('line', {x1: 496.5, x2: 807, y1: 1591.7, y2: 1591.7, stroke: '#000', 'stroke-width': 2.8}, g);
  
  
  rateTicks.forEach((v, i) => {
    const t = mk('line', {x1: xS(v), x2: xS(v), y1: 1593, y2: 1595, stroke: '#000', 'stroke-width': 1.2}, g);
    
    
    const l = mk('text', {x: xS(v), y: 1607.3, 'text-anchor': 'middle', class: 'tick'}, g, rateTickLabels[i]);
    
    
  });
  accYTicks.forEach(v => {
    const t = mk('line', {x1: 494, x2: 496.5, y1: yS(v), y2: yS(v), stroke: '#000', 'stroke-width': 1.2}, g);
    
    
    const l = mk('text', {x: 493.3, y: yS(v) + 5, 'text-anchor': 'end', class: 'tick'}, g, String(v));
    
    
  });
})();
</script>
</body>
</html>
